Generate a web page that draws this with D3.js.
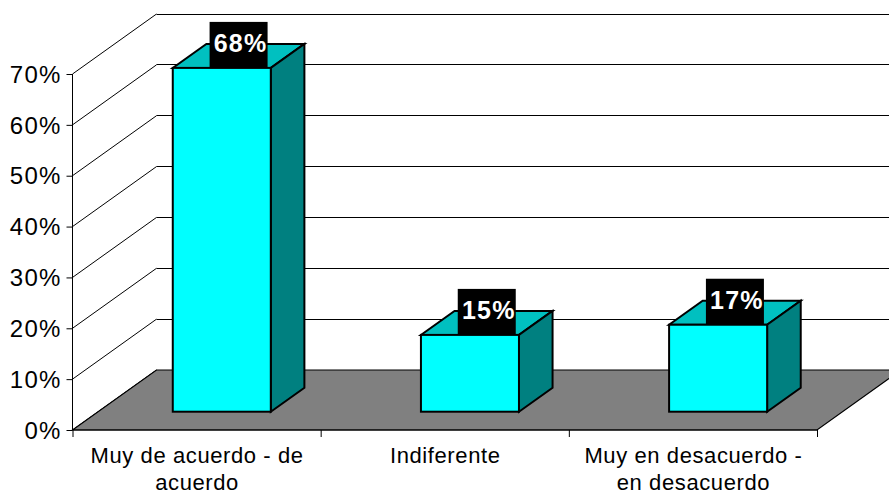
<!DOCTYPE html>
<html>
<head>
<meta charset="utf-8">
<script src="https://cdn.jsdelivr.net/npm/d3@7"></script>
<style>
  html, body { margin: 0; padding: 0; background: #fff; }
  svg { display: block; font-family: "Liberation Sans", Arial, sans-serif; }
</style>
</head>
<body>
<div id="chart"></div>
<script>
// values, labels round them
const categories = ["Muy de acuerdo - de|acuerdo", "Indiferente", "Muy en desacuerdo -|en desacuerdo"];
const values = [0.676, 0.151, 0.171];
const percentTicks = [0, 0.1, 0.2, 0.3, 0.4, 0.5, 0.6, 0.7];

const WIDTH = 889;
const HEIGHT = 492;
const LEFT = 72.5;
const RIGHT = 817;
const BOTTOM = 430;
const TOP = 74;

// the 3d box: how far the back wall is shifted from the front plane
const DEPTH_X = 84;
const DEPTH_Y = -60;
const BAR_START = 0.3;  // share of the floor depth in front of a bar
const BAR_DEPTH = 0.4;

const svg = d3.select("#chart").append("svg")
  .attr("width", WIDTH)
  .attr("height", HEIGHT);

const x = d3.scaleBand().domain(categories).range([LEFT, RIGHT]).paddingInner(0.605).paddingOuter(0.3025);
const edges = d3.scaleLinear().domain([0, categories.length]).range([LEFT, RIGHT]);
const y = d3.scaleLinear().domain([0, 0.7]).range([BOTTOM, TOP]);
const pct = d3.format(".0%");

const depthX = d => DEPTH_X * d;
const depthY = d => DEPTH_Y * d;
const poly = pts => pts.map(p => p.join(",")).join(" ");

// walls
const grid = svg.append("g").attr("fill", "none").attr("stroke", "#000").attr("stroke-width", 1);
percentTicks.forEach(t => {
  grid.append("line")
    .attr("x1", LEFT).attr("y1", y(t))
    .attr("x2", LEFT + depthX(1)).attr("y2", y(t) + depthY(1));
  grid.append("line")
    .attr("x1", LEFT + depthX(1)).attr("y1", Math.floor(y(t) + depthY(1)) + 0.5)
    .attr("x2", WIDTH + 10).attr("y2", Math.floor(y(t) + depthY(1)) + 0.5);
});

// floor
svg.append("polygon")
  .attr("points", poly([
    [LEFT, y(0)],
    [LEFT + depthX(1), y(0) + depthY(1)],
    [RIGHT + depthX(1), y(0) + depthY(1)],
    [RIGHT, y(0)]
  ]))
  .attr("fill", "#808080")
  .attr("stroke", "#000")
  .attr("stroke-width", 1.2);

// axes
const yAxis = d3.axisLeft(y).tickValues(percentTicks).tickFormat(pct).tickSize(6).tickPadding(5);
const gy = svg.append("g").attr("transform", `translate(${LEFT},0)`).call(yAxis);
gy.select(".domain").attr("stroke", "#000").attr("d", `M0,${y(0.7)}V${y(0)}`);
gy.selectAll("text")
  .attr("font-size", 24)
  .attr("font-family", "Liberation Sans")
  .attr("letter-spacing", 1.2)
  .attr("fill", "#000")
  .attr("dy", "0.34em");

const xAxis = d3.axisBottom(edges).tickValues(d3.range(categories.length + 1)).tickFormat("").tickSize(7);
const gx = svg.append("g").attr("transform", `translate(0,${BOTTOM})`).call(xAxis);
gx.select(".domain").attr("stroke", "#000").attr("d", `M${LEFT},0H${RIGHT}`);

// category labels, wrapped by hand as in the picture
const catLabels = svg.append("g")
  .attr("font-size", 22)
  .attr("letter-spacing", 0.6)
  .attr("text-anchor", "middle")
  .attr("fill", "#000");
categories.forEach(c => {
  c.split("|").forEach((line, i) => {
    catLabels.append("text")
      .attr("x", x(c) + x.bandwidth() / 2 + 0.5)
      .attr("y", 463 + i * 27)
      .text(line);
  });
});

// bars
const bars = svg.selectAll(".bar")
  .data(categories.map((c, i) => ({ c, v: values[i] })))
  .join("g")
  .attr("class", "bar")
  .attr("stroke", "#000")
  .attr("stroke-width", 2)
  .attr("stroke-linejoin", "miter");

const shift = depthX(BAR_START);
const fx0 = d => x(d.c) + shift;
const fx1 = d => x(d.c) + x.bandwidth() + shift;
const fy0 = () => y(0) + depthY(0.305);
const fy1 = d => fy0() - (y(0) - y(d.v));
const dx = depthX(BAR_DEPTH);
const dy = depthY(BAR_DEPTH);

bars.append("polygon")
  .attr("fill", "#00c0c0")
  .attr("points", d => poly([[fx0(d), fy1(d)], [fx1(d), fy1(d)], [fx1(d) + dx, fy1(d) + dy], [fx0(d) + dx, fy1(d) + dy]]));
bars.append("polygon")
  .attr("fill", "#008080")
  .attr("points", d => poly([[fx1(d), fy0()], [fx1(d) + dx, fy0() + dy], [fx1(d) + dx, fy1(d) + dy], [fx1(d), fy1(d)]]));
bars.append("rect")
  .attr("fill", "#00ffff")
  .attr("x", fx0)
  .attr("y", fy1)
  .attr("width", x.bandwidth())
  .attr("height", d => fy0() - fy1(d));

// value labels
const LABEL_W = 58;
const LABEL_H = 46;
const tags = svg.selectAll(".tag")
  .data(categories.map((c, i) => ({ c, v: values[i] })))
  .join("g")
  .attr("class", "tag");
tags.append("rect")
  .attr("fill", "#000")
  .attr("x", d => fx0(d) + x.bandwidth() / 2 + dx / 2 - LABEL_W / 2)
  .attr("y", d => fy1(d) - LABEL_H)
  .attr("width", LABEL_W)
  .attr("height", LABEL_H);
tags.append("text")
  .attr("fill", "#fff")
  .attr("font-size", 25)
  .attr("font-weight", "bold")
  .attr("letter-spacing", 1.2)
  .attr("text-anchor", "middle")
  .attr("x", d => fx0(d) + x.bandwidth() / 2 + dx / 2 + 2)
  .attr("y", d => fy1(d) - 16)
  .text(d => pct(d.v));
</script>
</body>
</html>
